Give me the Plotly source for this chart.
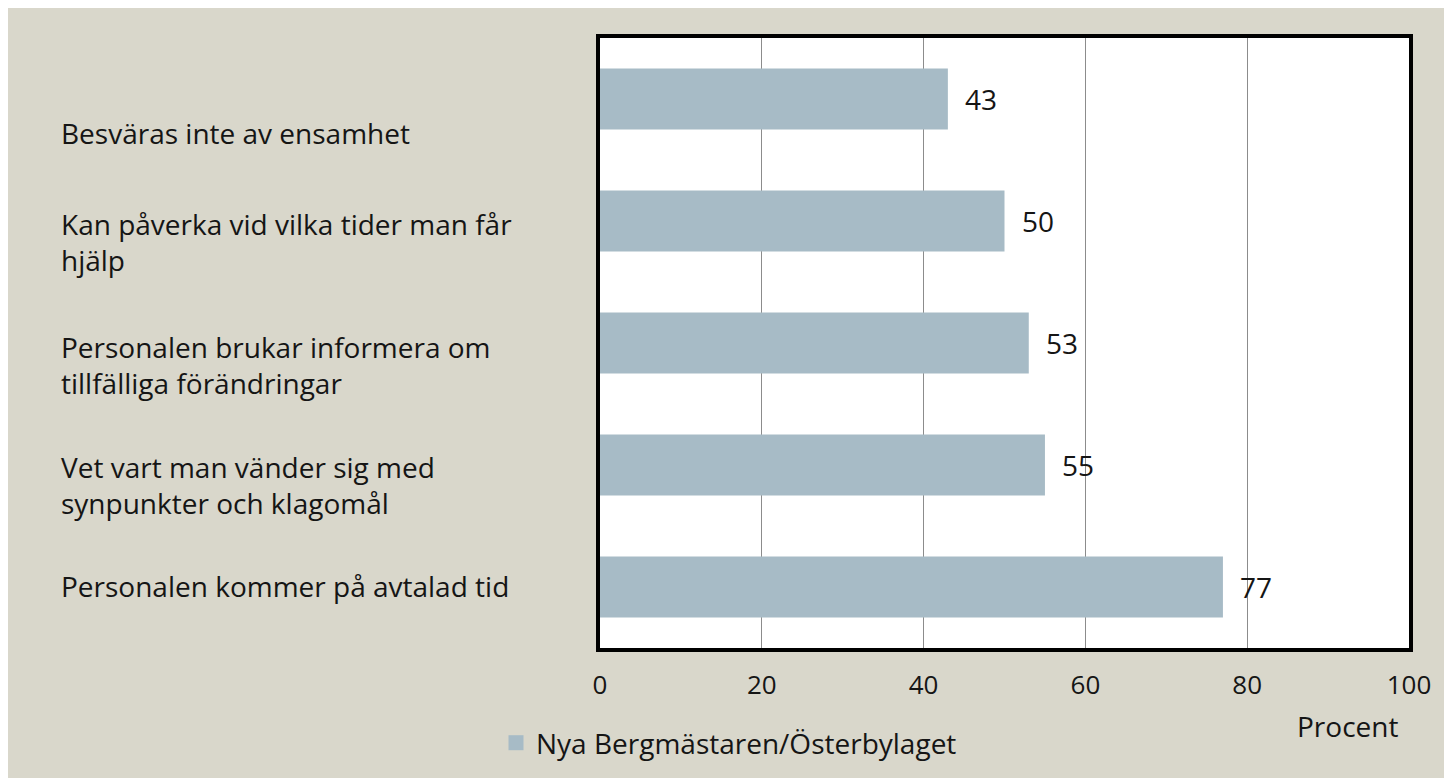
import plotly.graph_objects as go

categories = [
    "Besväras inte av ensamhet",
    "Kan påverka vid vilka tider man får<br>hjälp",
    "Personalen brukar informera om<br>tillfälliga förändringar",
    "Vet vart man vänder sig med<br>synpunkter och klagomål",
    "Personalen kommer på avtalad tid",
]
cat_keys = ["c1", "c2", "c3", "c4", "c5"]
values = [43, 50, 53, 55, 77]
series_name = "Nya Bergmästaren/Österbylaget"
x_ticks = [0, 20, 40, 60, 80, 100]
x_title = "Procent"

# style
label_yshift = [-34, -21, -22, -20, 1]
FONT = "Open Sans"
FS = 28
TFS = 26
BAR = "#A7BBC6"
BG = "#D9D7CB"
TXT = "#151515"
W, H = 1452, 778
ML, MR, MT, MB = 592, 51, 30, 138
PW = W - ML - MR
PH = H - MT - MB

def px_x(px):
    return (px - ML) / PW

def px_y(py):
    return (H - MB - py) / PH

fig = go.Figure()
fig.add_trace(go.Bar(
    x=values, y=cat_keys, orientation="h", name=series_name,
    marker=dict(color=BAR, line=dict(width=0)),
    showlegend=False,
))
# legend entry with a larger square swatch
fig.add_trace(go.Scatter(
    x=[None], y=[None], mode="markers", name=series_name,
    marker=dict(symbol="square", size=15, color=BAR),
    showlegend=True,
))

annotations = []
for k, lab, dy in zip(cat_keys, categories, label_yshift):
    annotations.append(dict(
        x=px_x(51), xref="paper", y=k, yref="y", text=lab, showarrow=False,
        xanchor="left", align="left", yanchor="middle", yshift=dy,
        font=dict(family=FONT, size=FS, color=TXT),
    ))
for k, v in zip(cat_keys, values):
    annotations.append(dict(
        x=v, xref="x", y=k, yref="y", text=str(v), showarrow=False,
        xanchor="left", yanchor="middle", xshift=15,
        font=dict(family=FONT, size=FS, color=TXT),
    ))
annotations.append(dict(
    x=px_x(1339), xref="paper", y=px_y(718), yref="paper", text=x_title,
    showarrow=False, xanchor="center", yanchor="middle",
    font=dict(family=FONT, size=FS, color=TXT),
))

fig.update_layout(
    width=W, height=H,
    margin=dict(l=ML, r=MR, t=MT, b=MB, pad=0),
    paper_bgcolor=BG, plot_bgcolor="white",
    bargap=0.5,
    font=dict(family=FONT, size=FS, color=TXT),
    xaxis=dict(range=[0, 100], tickvals=x_ticks, showgrid=True, gridcolor="#8C8C8C",
               gridwidth=1, zeroline=False, showline=True, mirror=True,
               linecolor="black", linewidth=4, ticks="", ticklabelstandoff=11,
               tickfont=dict(family=FONT, size=TFS, color=TXT)),
    yaxis=dict(autorange="reversed", showticklabels=False, showgrid=False,
               zeroline=False, showline=True, mirror=True, linecolor="black",
               linewidth=4, ticks=""),
    legend=dict(orientation="h", x=px_x(488), xanchor="left", y=px_y(735),
                yanchor="middle", bgcolor="rgba(0,0,0,0)",
                font=dict(family=FONT, size=FS, color=TXT)),
    annotations=annotations,
)

fig.write_html("out.html")
